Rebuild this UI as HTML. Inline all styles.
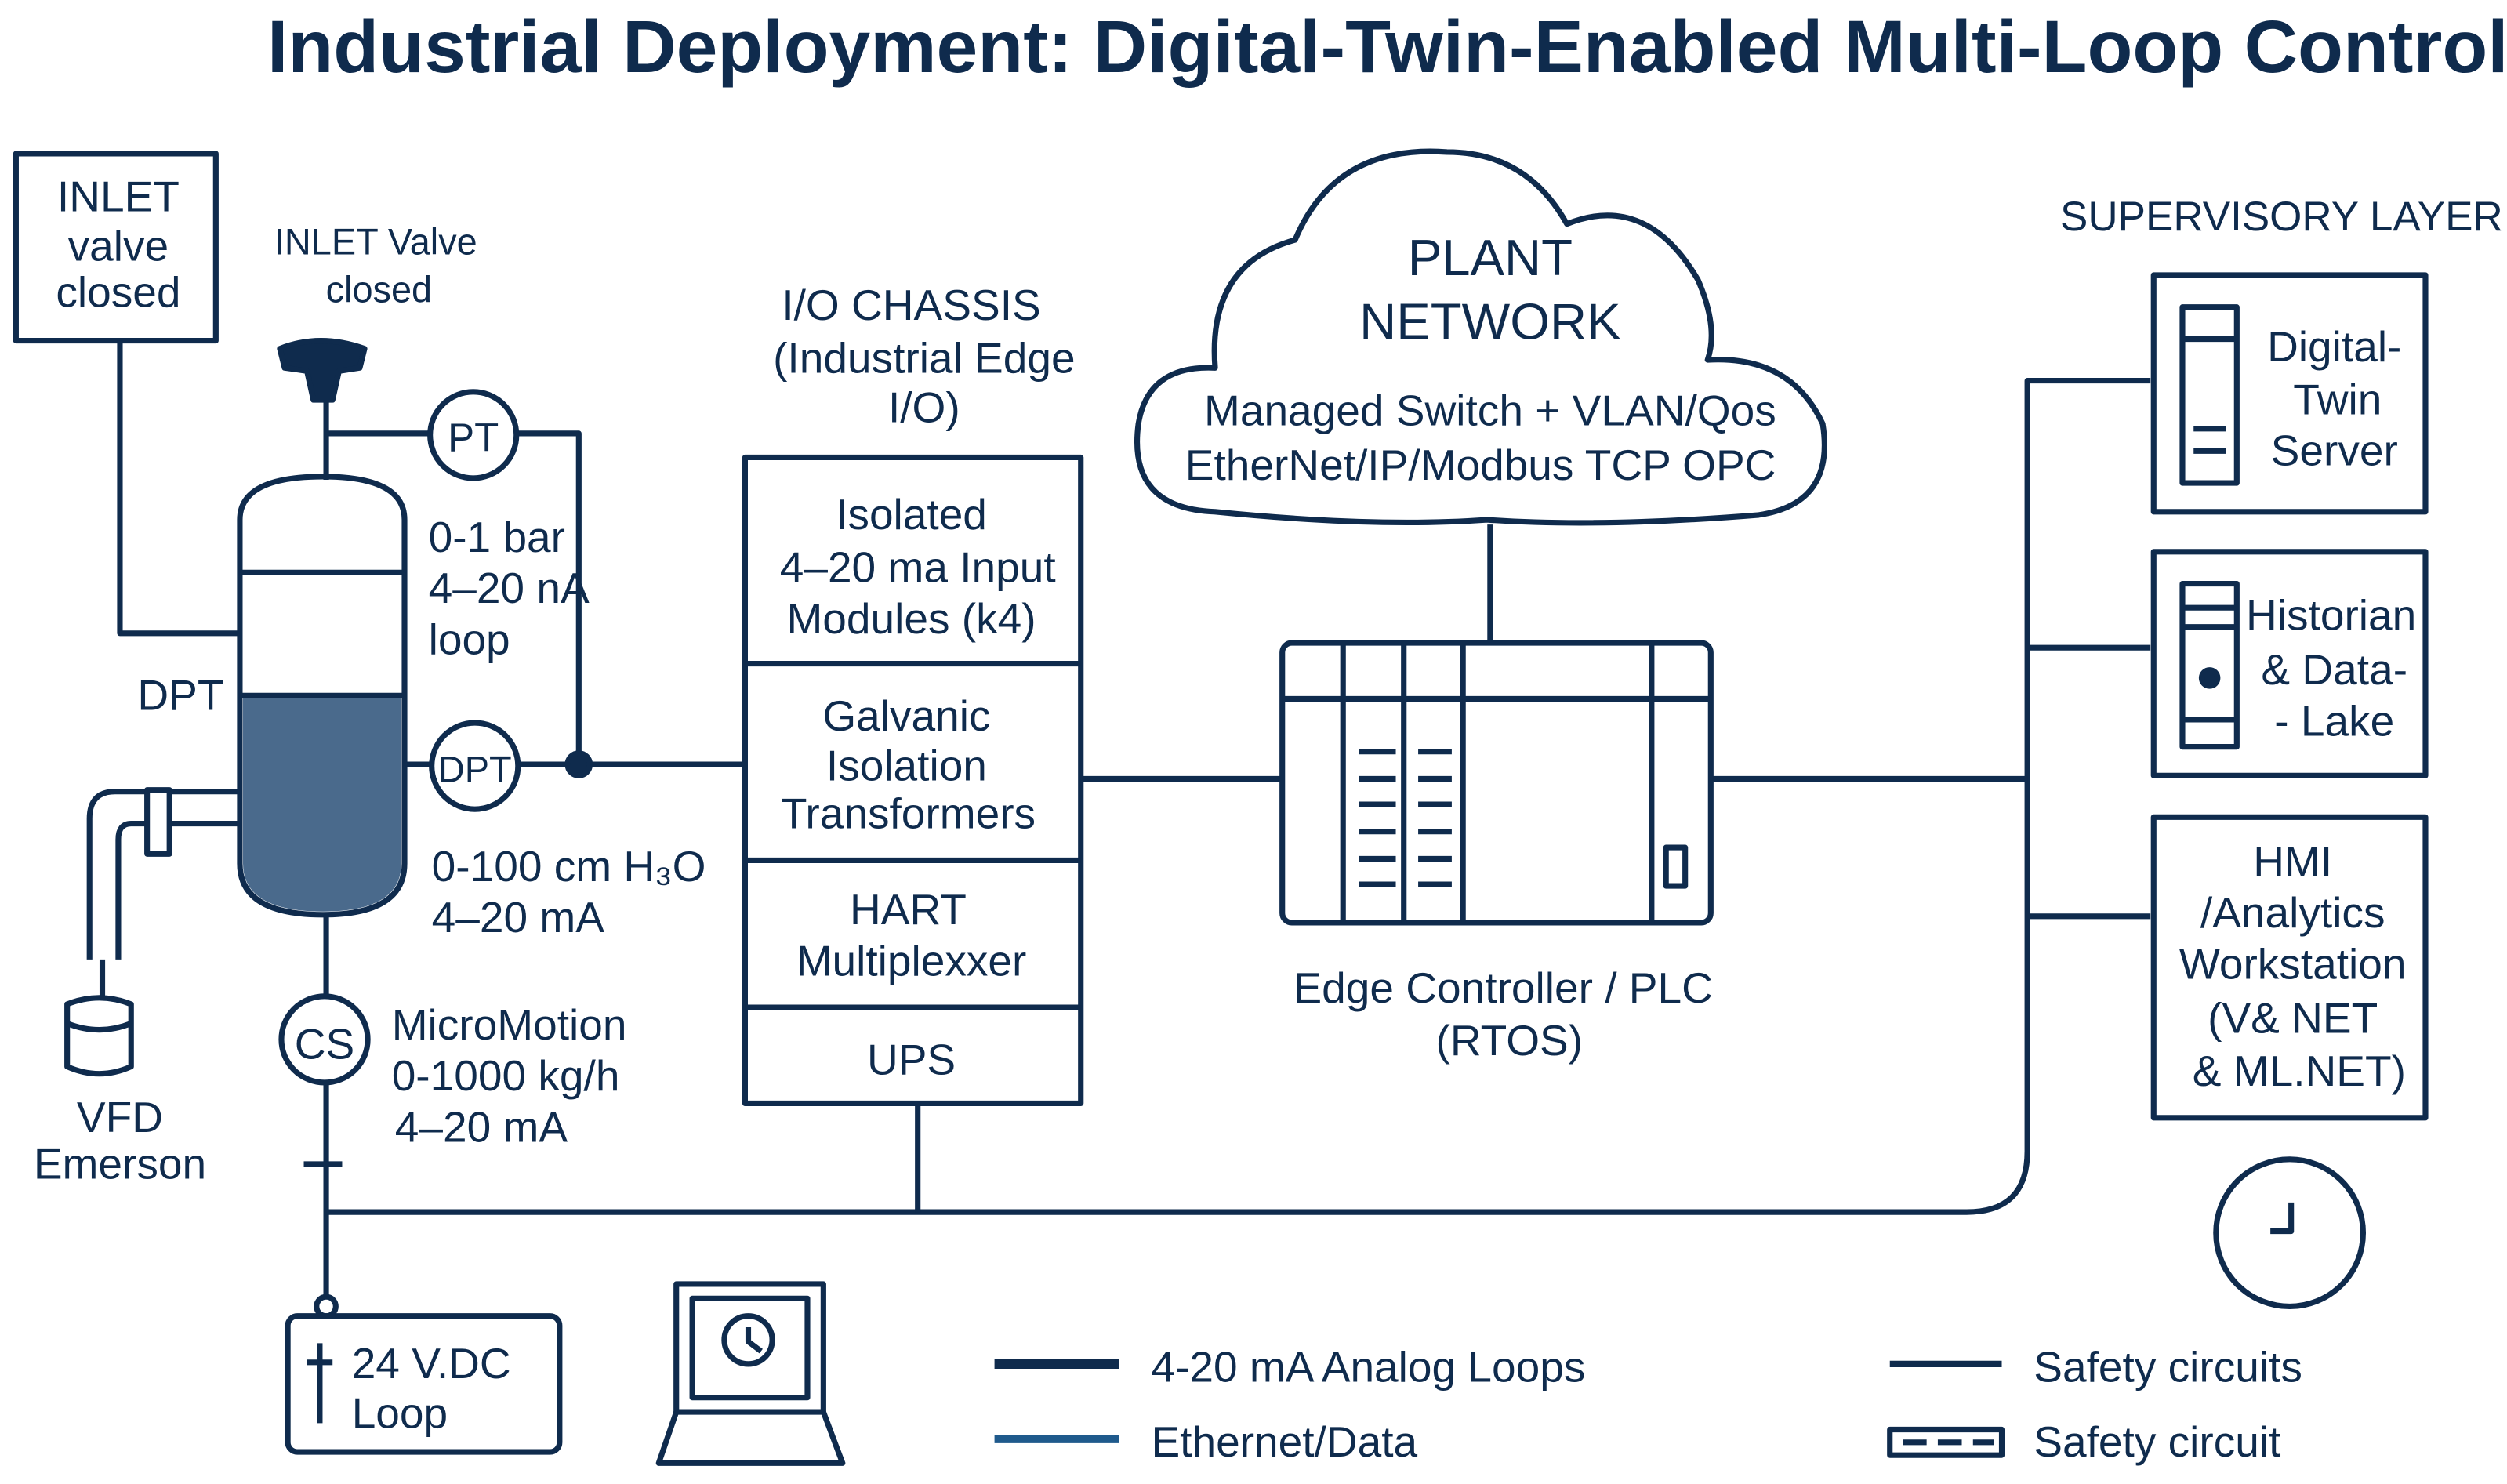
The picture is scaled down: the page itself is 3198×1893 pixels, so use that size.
<!DOCTYPE html>
<html><head><meta charset="utf-8"><style>html,body{margin:0;padding:0;background:#fff}svg{display:block}text{font-family:"Liberation Sans","DejaVu Sans",sans-serif;fill:#0f2b4d}</style></head>
<body>
<svg width="3198" height="1893" viewBox="0 0 1568 928" xmlns="http://www.w3.org/2000/svg">
<g fill="none" stroke="#0f2b4d" stroke-width="3.5" stroke-linejoin="round">
<rect x="10" y="96" width="125" height="117"/>
<path d="M75 213 V396 H150"/>
<path d="M175 218 Q200 208 228 218 L225 230 L212 232 L208 250 L196 250 L192 232 L178 230 Z" fill="#0f2b4d"/>
<path d="M204 250 V300 M204 271 H268 M324 271 H362 V478"/>
<circle cx="296" cy="272" r="27" fill="#fff"/>
<path d="M152 435 H251 V540 Q251 570 202 570 Q152 570 152 540 Z" fill="#4a6a8c" stroke="none"/>
<path d="M150 325 Q150 298 202 298 Q253 298 253 325 V540 Q253 572 202 572 Q150 572 150 540 Z"/>
<path d="M150 358 H253 M150 435 H253"/>
<path d="M253 478 H270 M324 478 H465"/>
<circle cx="297" cy="479" r="27" fill="#fff"/>
<circle cx="362" cy="478" r="7" fill="#0f2b4d"/>
<path d="M150 495 H72 Q56 495 56 512 V600 M150 515 H82 Q74 515 74 525 V600"/>
<rect x="92" y="494" width="14" height="40" fill="#fff"/>
<path d="M64 600 V625"/>
<path d="M42 628 V667 Q62 676 82 667 V628 Q62 620 42 628 Z M42 640 Q62 648 82 640"/>
<path d="M204 572 V622 M204 678 V812"/>
<circle cx="203" cy="650" r="27"/>
<path d="M190 728 H214"/>
<path d="M204 758 H1230 Q1268 758 1268 720 V238 H1345 M1268 405 H1345 M1268 573 H1345"/>
<path d="M574 690 V758"/>
<circle cx="204" cy="817" r="6"/>
<rect x="180" y="823" width="170" height="85" rx="6"/>
<path d="M200 840 V890 M192 852 H208" />
<rect x="423" y="803" width="92" height="80"/>
<rect x="433" y="812" width="72" height="62"/>
<circle cx="468" cy="838" r="15"/>
<path d="M468 830 V839 L476 845"/>
<path d="M423 883 L412 915 H527 L515 883"/>
<rect x="466" y="286" width="210" height="404"/>
<path d="M466 415 H676 M466 538 H676 M466 630 H676"/>
<path d="M676 487 H802 M1070 487 H1268"/>
<path d="M760 320 Q705 318 712 265 Q718 228 760 230 Q755 165 810 150 Q835 90 905 95 Q955 95 980 140 Q1030 120 1062 175 Q1075 205 1068 225 Q1120 222 1140 265 Q1148 315 1100 322 Q1000 330 930 325 Q860 330 760 320 Z"/>
<path d="M932 328 V402"/>
<rect x="802" y="402" width="268" height="175" rx="6"/>
<path d="M802 437 H1070 M840 402 V577 M878 402 V577 M915 402 V577 M1033 402 V577"/>
<path d="M850 470 H873 M850 487 H873 M850 503 H873 M850 520 H873 M850 537 H873 M850 553 H873 M887 470 H908 M887 487 H908 M887 503 H908 M887 520 H908 M887 537 H908 M887 553 H908"/>
<rect x="1042" y="530" width="12" height="24"/>
<rect x="1347" y="172" width="170" height="148"/>
<rect x="1347" y="345" width="170" height="140"/>
<rect x="1347" y="511" width="170" height="188"/>
<rect x="1365" y="192" width="34" height="110"/>
<path d="M1365 212 H1399 M1372 268 H1392 M1372 282 H1392"/>
<rect x="1365" y="365" width="34" height="102"/>
<path d="M1365 380 H1399 M1365 392 H1399 M1365 450 H1399"/>
<circle cx="1382" cy="424" r="5" fill="#0f2b4d"/>
<circle cx="1432" cy="771" r="46"/>
<path d="M1433 752 V770 H1420"/>
<path d="M622 853 H700" stroke-width="6"/>
<path d="M622 900 H700" stroke="#1f5a8c" stroke-width="5"/>
<path d="M1182 853 H1252" stroke-width="4"/>
<rect x="1182" y="894" width="70" height="16"/>
<path d="M1190 902 H1205 M1212 902 H1227 M1234 902 H1247"/>
</g>
<g font-size="27">
<text x="868" y="45" font-size="46.5" font-weight="bold" text-anchor="middle">Industrial Deployment: Digital-Twin-Enabled Multi-Loop Control</text>
<g text-anchor="middle">
<text x="74" y="132">INLET</text><text x="74" y="163">valve</text><text x="74" y="192">closed</text>
<text x="235" y="159" font-size="23">INLET Valve</text><text x="237" y="189" font-size="23">closed</text>
<text x="296" y="282" font-size="25">PT</text><text x="297" y="489" font-size="23">DPT</text><text x="203" y="662">CS</text>
<text x="570" y="200">I/O CHASSIS</text><text x="578" y="233">(Industrial Edge</text><text x="578" y="264">I/O)</text>
<text x="570" y="331">Isolated</text><text x="574" y="364">4–20 ma Input</text><text x="570" y="396">Modules (k4)</text>
<text x="567" y="457">Galvanic</text><text x="567" y="488">Isolation</text><text x="568" y="518">Transformers</text>
<text x="568" y="578">HART</text><text x="570" y="610">Multiplexxer</text>
<text x="570" y="672">UPS</text>
<text x="932" y="172" font-size="32">PLANT</text><text x="932" y="212" font-size="32">NETWORK</text>
<text x="932" y="266">Managed Switch + VLAN/Qos</text><text x="926" y="300">EtherNet/IP/Modbus TCP OPC</text>
<text x="940" y="627">Edge Controller / PLC</text><text x="944" y="660">(RTOS)</text>
<text x="1460" y="226">Digital-</text><text x="1462" y="259">Twin</text><text x="1460" y="291">Server</text>
<text x="1458" y="394">Historian</text><text x="1460" y="428">&amp; Data-</text><text x="1460" y="460">- Lake</text>
<text x="1434" y="548">HMI</text><text x="1434" y="580">/Analytics</text><text x="1434" y="612">Workstation</text><text x="1434" y="646">(V&amp; NET</text><text x="1438" y="679">&amp; ML.NET)</text>
<text x="1427" y="144" font-size="26">SUPERVISORY LAYER</text>
<text x="75" y="708">VFD</text><text x="75" y="737">Emerson</text>
</g>
<text x="86" y="444">DPT</text>
<text x="268" y="345">0-1 bar</text><text x="268" y="377">4–20 nA</text><text x="268" y="409">loop</text>
<text x="270" y="551">0-100 cm H₃O</text><text x="270" y="583">4–20 mA</text>
<text x="245" y="650">MicroMotion</text><text x="245" y="682">0-1000 kg/h</text><text x="247" y="714">4–20 mA</text>
<text x="220" y="862">24 V.DC</text><text x="220" y="893">Loop</text>
<text x="720" y="864">4-20 mA Analog Loops</text><text x="720" y="911">Ethernet/Data</text>
<text x="1272" y="864">Safety circuits</text><text x="1272" y="911">Safety circuit</text>
</g>
</svg>
</body></html>
